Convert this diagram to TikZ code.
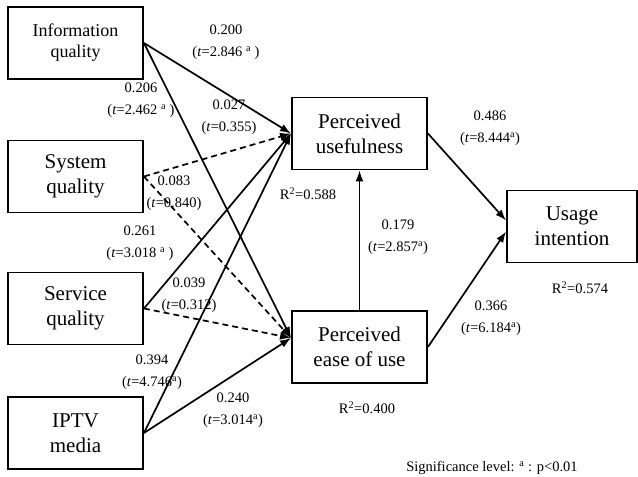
\documentclass[tikz,border=0pt]{standalone}
\usepackage{fontspec}
\setmainfont{Liberation Serif}
\usetikzlibrary{arrows.meta}
\tikzset{>={Latex[length=11pt,width=8pt]}}
\tikzset{
  factor/.style={draw, line width=1.9pt, minimum width=135pt, minimum height=72pt,
    align=center, inner sep=2pt, font=\fontsize{21}{25}\selectfont},
  path/.style={line width=1.7pt, ->},
  nspath/.style={path, dash pattern=on 6pt off 4pt},
  coef/.style={align=center, inner sep=0pt, font=\fontsize{14.5}{22}\selectfont},
}
\newcommand*{\sig}{\textsuperscript{a}}
\newcommand*{\tval}[1]{(\textit{t}=#1)}

\begin{document}
\begin{tikzpicture}[x=1pt, y=-1pt]
    \useasboundingbox (0, 0) rectangle (638, 477);
    \node[factor, font=\fontsize{18}{21}\selectfont](info) at (75.5, 43){Information\\quality};
    \node[factor](sys) at (75.5, 176.5){System\\quality};
    \node[factor](serv) at (75.5, 308.5){Service\\quality};
    \node[factor](iptv) at (75.5, 433){IPTV\\media};
    \node[factor](pu) at (359.5, 133.5){Perceived\\usefulness};
    \node[factor](peou) at (359.5, 347){Perceived\\ease of use};
    \node[factor, minimum width=130pt](ui) at (572, 226.5){Usage\\intention};
    \coordinate (peouin) at ([yshift=9pt]peou.west);
    \coordinate (uitop) at ([yshift=6pt]ui.west);
    \coordinate (uibot) at ([yshift=-5pt]ui.west);
    \draw[path](info.east)--(pu.west);
    \draw[path](info.east)--(peouin);
    \draw[nspath](sys.east)--(pu.west);
    \draw[nspath](sys.east)--(peouin);
    \draw[path](serv.east)--(pu.west);
    \draw[nspath](serv.east)--(peouin);
    \draw[path](iptv.east)--(pu.west);
    \draw[path](iptv.east)--(peouin);
    \draw[path](peou.north)--(pu.south);
    \draw[path](pu.east)--(uitop);
    \draw[path](peou.east)--(uibot);
    \node[coef](l200) at (226, 42){0.200\\\tval{2.846 \sig\ }};
    \node[coef](l206) at (141, 100){0.206\\\tval{2.462 \sig\ }};
    \node[coef](l027) at (229, 117){0.027\\\tval{0.355}};
    \node[coef](l083) at (174, 193){0.083\\\tval{0.840}};
    \node[coef](l261) at (140, 243){0.261\\\tval{3.018 \sig\ }};
    \node[coef](l039) at (189, 295){0.039\\\tval{0.312}};
    \node[coef](l394) at (152, 372){0.394\\\tval{4.746\sig}};
    \node[coef](l240) at (233, 410){0.240\\\tval{3.014\sig}};
    \node[coef](l179) at (398, 237){0.179\\\tval{2.857\sig}};
    \node[coef](l486) at (490, 128){0.486\\\tval{8.444\sig}};
    \node[coef](l366) at (491, 318){0.366\\\tval{6.184\sig}};
    \node[coef](r588) at (308, 194){R\textsuperscript{2}=0.588};
    \node[coef](r400) at (367, 408){R\textsuperscript{2}=0.400};
    \node[coef](r574) at (580, 288){R\textsuperscript{2}=0.574};
    \node[coef](note) at (492, 468){Significance level: \sig\ : p<0.01};
\end{tikzpicture}
\end{document}
